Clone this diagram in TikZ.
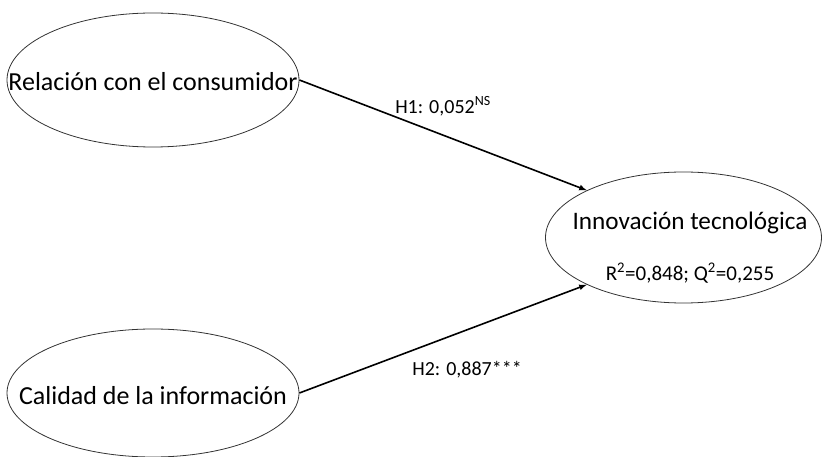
\documentclass[tikz,border=0pt]{standalone}
\usepackage{fontspec}
\setmainfont{Carlito}
\usetikzlibrary{shapes.geometric}

\tikzset{
  latent/.style={draw=black!80,line width=0.8pt,ellipse,inner sep=0pt},
  path/.style={->,>=latex,line width=1.6pt},
  big/.style={font=\fontsize{26}{30}\selectfont},
  small/.style={font=\fontsize{20}{24}\selectfont}
}

\begin{document}
\begin{tikzpicture}[x=1pt,y=-1pt]
    \useasboundingbox (0,0) rectangle (823,457);
    % constructs
    \node[latent,minimum width=292pt,minimum height=134pt] (rel) at (153,80) {};
    \node[big] (reltxt) at (153,82) {Relación con el consumidor};
    \node[latent,minimum width=292pt,minimum height=128pt] (cal) at (153,393) {};
    \node[big] (caltxt) at (153,396) {Calidad de la información};
    \node[latent,minimum width=276pt,minimum height=131pt] (innov) at (683.5,237.5) {};
    \node[big,font=\fontsize{25.2}{30}\selectfont] (innovtxt) at (690,223) {Innovación tecnológica};
    \node[small,font=\fontsize{21}{24}\selectfont] (fit) at (690,273) {R\textsuperscript{2}=0,848; Q\textsuperscript{2}=0,255};

    % paths
    \draw[path] (rel.east) -- (innov.154);
    \draw[path] (cal.east) -- (innov.206);
    \node[small] (h1) at (443,106) {H1: 0,052\textsuperscript{NS}};
    \node[small] (h2) at (467,370) {H2: 0,887***};
\end{tikzpicture}
\end{document}
